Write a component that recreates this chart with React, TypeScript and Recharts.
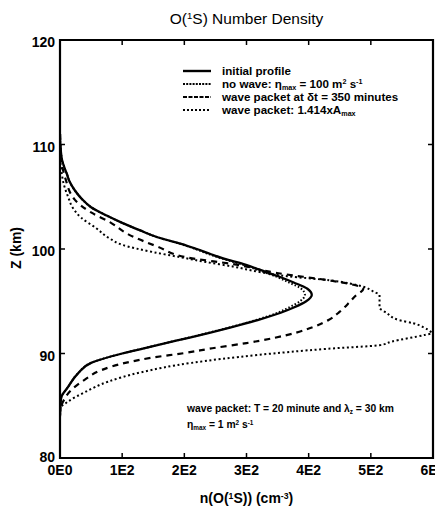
import React from 'react';
import { ScatterChart, Scatter, XAxis, YAxis, ReferenceArea } from 'recharts';

// ---- axis ticks ----
const xTicks = [0, 100, 200, 300, 400, 500, 600];
const xTickLabels = ['0E0', '1E2', '2E2', '3E2', '4E2', '5E2', '6E2'];
const yTicks = [80, 90, 100, 110, 120];

// ---- initial profile (solid) ----
const initialZ = [111, 110, 109.3, 108.6, 107.8, 107.2, 106.5, 105.6, 104.8, 104, 103.2, 102.5, 101.8, 101.1, 100.5, 100, 99.5, 99, 98.5, 98, 97.3, 96.8, 96.2, 95.6, 95, 94.4, 93.9, 93.2, 92.5, 92, 91.5, 91, 90.5, 90, 89.1, 88.1, 86.8, 85.8, 85, 84];
const initialN = [0, 0.5, 1.5, 3, 7, 11, 15, 24, 35, 50, 75, 100, 128, 158, 195, 220, 243, 268, 298, 322, 355, 376, 398, 405, 396, 376, 355, 318, 275, 242, 207, 170, 135, 100, 50, 29, 13, 2, 0.8, 0];

// ---- no wave (fine dotted) ----
const noWaveZ = initialZ;
const noWaveN = [0, 0.5, 1.5, 3, 7, 11, 15, 24, 35, 50, 75, 100, 128, 158, 193, 218, 240, 265, 294, 318, 350, 368, 388, 394, 386, 368, 350, 315, 273, 240, 206, 170, 135, 100, 50, 29, 13, 2, 0.8, 0];

// ---- wave packet at dt = 350 minutes (dashed) ----
const packetZ = [111, 110, 108.5, 106.9, 104.7, 103.5, 102.5, 101.4, 100.2, 99.2, 98.5, 97.7, 97.0, 96.6, 96.2, 95.5, 94.8, 94.0, 93.2, 92.6, 92.0, 91.5, 91.0, 90.5, 90.05, 89.6, 89.1, 88.4, 87.5, 86.5, 85.4, 84.5];
const packetN = [0, 0.5, 2, 8, 24, 50, 82, 110, 158, 204, 284, 349, 432, 470, 488, 475, 464, 450, 432, 410, 380, 345, 300, 245, 201, 148, 105, 66, 40, 18, 5, 0];

// ---- wave packet 1.414 x Amax (dotted) ----
const ampZ = [110, 108.5, 107.6, 106, 105, 104, 103, 102, 101, 100.4, 99.7, 99.2, 98.75, 98.3, 97.8, 97.4, 97.0, 96.4, 95.9, 95.6, 95.0, 94.4, 93.9, 93.2, 92.9, 92.5, 92.1, 91.95, 91.77, 91.13, 90.8, 90.45, 89.86, 89.1, 88.2, 87.3, 86.3, 85.4, 84.8, 84];
const ampN = [0, 0.5, 2, 7, 13, 20, 34, 58, 80, 100, 150, 195, 235, 280, 321, 365, 434, 487, 505, 514, 514, 514, 525, 545, 568, 585, 596, 598, 586, 533, 514, 430, 318, 211, 130, 77, 40, 13, 1, 0];

const zip = (zs: number[], ns: number[]) => zs.map((z, i) => ({ z, n: ns[i] }));
const initialData = zip(initialZ, initialN);
const noWaveData = zip(noWaveZ, noWaveN);
const packetData = zip(packetZ, packetN);
const ampData = zip(ampZ, ampN);

const FONT = '"Liberation Sans", Arial, Helvetica, sans-serif';

const CHART_W = 435;
const CHART_H = 503;
const MARGIN = { top: 32, right: 10, bottom: 0, left: 0 };
const X_AXIS_H = 53;
const Y_AXIS_W = 52;
const PLOT_W = CHART_W - MARGIN.left - MARGIN.right - Y_AXIS_W;
const PLOT_H = CHART_H - MARGIN.top - MARGIN.bottom - X_AXIS_H;

const BottomTick = (props: any) => {
  const { x, y, payload } = props;
  const v = payload.value;
  const idx = xTicks.indexOf(v);
  const inner = v > 0 && v < 600;
  return (
    <g>
      {inner && <line x1={x} x2={x} y1={y} y2={y - 5} stroke="#000" strokeWidth={1.5} />}
      {inner && <line x1={x} x2={x} y1={y - PLOT_H} y2={y - PLOT_H + 5} stroke="#000" strokeWidth={1.5} />}
      <text x={x} y={y + 17} textAnchor="middle" fontSize={14} fontWeight="bold" fontFamily={FONT} fill="#000">
        {xTickLabels[idx]}
      </text>
    </g>
  );
};

const LeftTick = (props: any) => {
  const { x, y, payload } = props;
  const v = payload.value;
  const inner = v > 80 && v < 120;
  return (
    <g>
      {inner && <line x1={x} x2={x + 5} y1={y} y2={y} stroke="#000" strokeWidth={1.5} />}
      {inner && <line x1={x + PLOT_W} x2={x + PLOT_W - 5} y1={y} y2={y} stroke="#000" strokeWidth={1.5} />}
      <text x={x - 5} y={y + (v === 80 ? 4 : 7)} textAnchor="end" fontSize={14} fontWeight="bold" fontFamily={FONT} fill="#000">
        {v}
      </text>
    </g>
  );
};

const NoShape = () => <g />;

const sup = (t: string) => (
  <span style={{ fontSize: '0.62em', position: 'relative', top: '-0.5em', lineHeight: 0 }}>{t}</span>
);
const sub = (t: string) => (
  <span style={{ fontSize: '0.62em', position: 'relative', top: '0.3em', lineHeight: 0 }}>{t}</span>
);

const legendRows = [
  { dash: undefined as string | undefined, width: 2.4, label: <>initial profile</> },
  { dash: '2 1.2', width: 2, label: <>no wave: η{sub('max')} = 100 m{sup('2')} s{sup('-1')}</> },
  { dash: '4 1.5', width: 2, label: <>wave packet at δt = 350 minutes</> },
  { dash: '2 2', width: 2, label: <>wave packet: 1.414xA{sub('max')}</> },
];
const legendCenters = [62.5, 75.5, 88.5, 101.5];

export default function App() {
  return (
    <div style={{ position: 'relative', width: CHART_W, height: CHART_H, fontFamily: FONT, color: '#000' }}>
      <ScatterChart width={CHART_W} height={CHART_H} margin={MARGIN}>
        <XAxis
          type="number"
          dataKey="n"
          domain={[0, 600]}
          ticks={xTicks}
          allowDataOverflow
          axisLine={false}
          tickLine={false}
          tickSize={0}
          tickMargin={0}
          height={X_AXIS_H}
          tick={<BottomTick />}
          interval={0}
        />
        <YAxis
          type="number"
          dataKey="z"
          domain={[80, 120]}
          ticks={yTicks}
          allowDataOverflow
          axisLine={false}
          tickLine={false}
          tickSize={0}
          tickMargin={0}
          width={Y_AXIS_W}
          tick={<LeftTick />}
          interval={0}
        />
        <Scatter
          data={ampData}
          fill="#000"
          line={{ stroke: '#000', strokeWidth: 2, strokeDasharray: '2 2.6' }}
          lineJointType="monotoneY"
          shape={<NoShape />}
          isAnimationActive={false}
        />
        <Scatter
          data={packetData}
          fill="#000"
          line={{ stroke: '#000', strokeWidth: 2.2, strokeDasharray: '6 5' }}
          lineJointType="monotoneY"
          shape={<NoShape />}
          isAnimationActive={false}
        />
        <Scatter
          data={initialData}
          fill="#000"
          line={{ stroke: '#000', strokeWidth: 2.3 }}
          lineJointType="monotoneY"
          shape={<NoShape />}
          isAnimationActive={false}
        />
        <Scatter
          data={noWaveData}
          fill="#000"
          line={{ stroke: '#000', strokeWidth: 2, strokeDasharray: '1.5 2' }}
          lineJointType="monotoneY"
          shape={<NoShape />}
          isAnimationActive={false}
        />
        <ReferenceArea x1={0} x2={600} y1={80} y2={120} fill="none" fillOpacity={0} stroke="#000" strokeWidth={2.2} />
      </ScatterChart>

      {/* title */}
      <div style={{ position: 'absolute', left: 238.5, top: 2, transform: 'translateX(-50%)', fontSize: 15.5, lineHeight: '17px', whiteSpace: 'nowrap' }}>
        O({sup('1')}S) Number Density
      </div>

      {/* y label */}
      <div style={{ position: 'absolute', left: 8, top: 240, transform: 'translate(-50%, -50%) rotate(-90deg)', fontSize: 14, fontWeight: 'bold', lineHeight: '16px', whiteSpace: 'nowrap' }}>
        Z (km)
      </div>

      {/* x label */}
      <div style={{ position: 'absolute', left: 238.5, top: 490, transform: 'translate(-50%, -50%)', fontSize: 14, fontWeight: 'bold', lineHeight: '16px', whiteSpace: 'nowrap' }}>
        n(O({sup('1')}S)) (cm{sup('-3')})
      </div>

      {/* legend */}
      {legendRows.map((r, i) => (
        <div key={i} style={{ position: 'absolute', left: 175, top: legendCenters[i], transform: 'translateY(-50%)', display: 'flex', alignItems: 'center', whiteSpace: 'nowrap', fontSize: 11.6, fontWeight: 'bold', lineHeight: '12px', height: 12 }}>
          <svg width={28} height={6} style={{ display: 'block' }}>
            <line x1={0} x2={28} y1={3} y2={3} stroke="#000" strokeWidth={r.width} strokeDasharray={r.dash} />
          </svg>
          <span style={{ marginLeft: 11 }}>{r.label}</span>
        </div>
      ))}

      {/* annotation */}
      <div style={{ position: 'absolute', left: 179, top: 401, transform: 'translateY(-50%)', fontSize: 10.3, fontWeight: 'bold', lineHeight: '12px', whiteSpace: 'nowrap' }}>
        wave packet: T = 20 minute and λ{sub('z')} = 30 km
      </div>
      <div style={{ position: 'absolute', left: 179, top: 417, transform: 'translateY(-50%)', fontSize: 10.3, fontWeight: 'bold', lineHeight: '12px', whiteSpace: 'nowrap' }}>
        η{sub('max')} = 1 m{sup('2')} s{sup('-1')}
      </div>
    </div>
  );
}
